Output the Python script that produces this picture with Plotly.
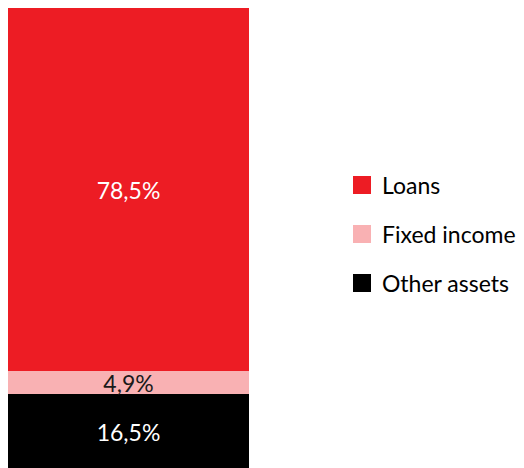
import plotly.graph_objects as go

categories = ["Assets"]
series_names = ["Other assets", "Fixed income", "Loans"]
series_values = [16.5, 4.9, 78.5]
series_colors = ["#000000", "#F9B1B3", "#ED1C24"]
text_colors = ["#FFFFFF", "#1A1A1A", "#FFFFFF"]

fig = go.Figure()
for name, val, col, tcol in zip(series_names, series_values, series_colors, text_colors):
    fig.add_trace(go.Bar(
        x=categories, y=[val], name=name, marker=dict(color=col, line=dict(width=0)),
        texttemplate="%{y:.1f}%", textposition="inside", insidetextanchor="middle",
        textangle=0, textfont=dict(color=tcol, size=23, family="Lato"),
        showlegend=False, hoverinfo="skip", cliponaxis=False,
    ))
# legend entries (square markers)
for i, (name, col) in enumerate(zip(series_names, series_colors)):
    fig.add_trace(go.Scatter(
        x=[None], y=[None], mode="markers", name=name,
        marker=dict(symbol="square", size=16, color=col, line=dict(color=col, width=2)),
        legendgroup=name, legendrank=3 - i,
    ))

fig.update_layout(
    width=524, height=468,
    margin=dict(l=0, r=0, t=0, b=6),
    separators=", ",
    barmode="stack", bargap=0,
    plot_bgcolor="white", paper_bgcolor="white",
    uniformtext=dict(minsize=23, mode="show"),
    xaxis=dict(domain=[0, 241 / 524], visible=False),
    yaxis=dict(range=[0, sum(series_values)], visible=False),
    showlegend=True,
    legend=dict(
        x=0.6374, y=0.5105, xanchor="left", yanchor="middle",
        font=dict(family="Lato", size=23, color="#000000"),
        tracegroupgap=16, traceorder="grouped", itemwidth=30,
        bgcolor="rgba(0,0,0,0)",
    ),
)
fig.write_html("out.html")
